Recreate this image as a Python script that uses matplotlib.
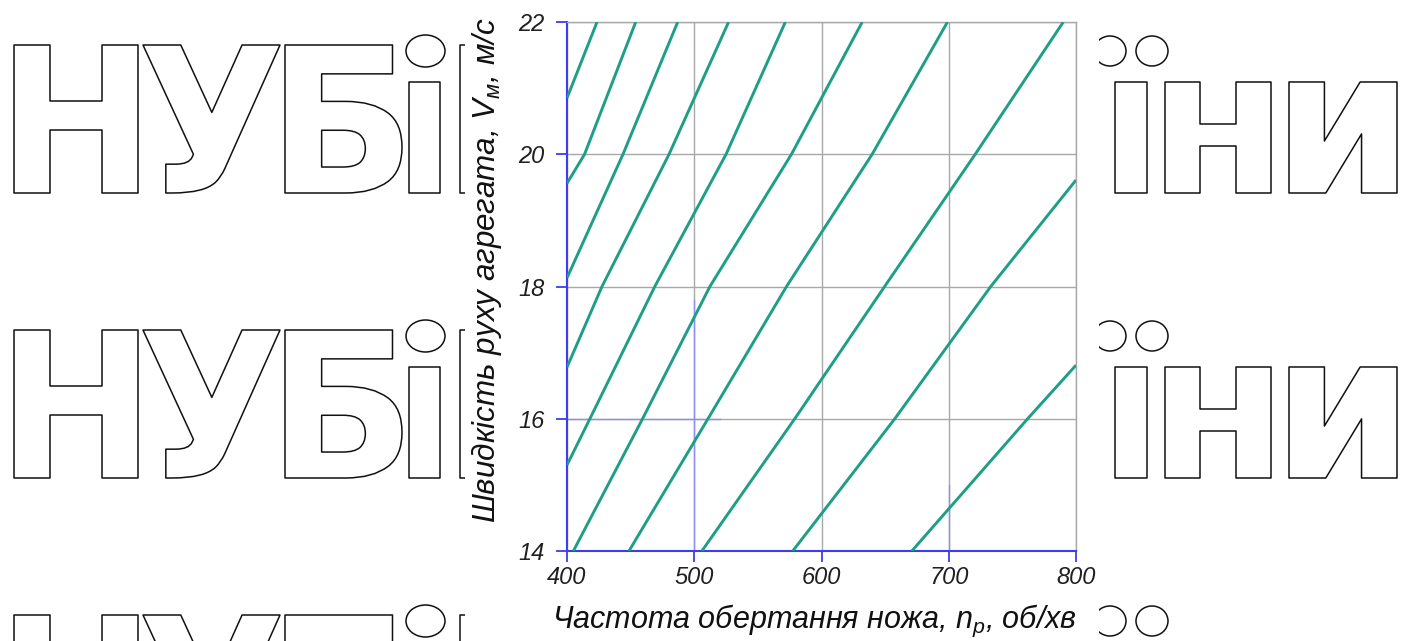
import matplotlib
matplotlib.use("Agg")
import matplotlib.pyplot as plt
from matplotlib.textpath import TextPath
from matplotlib.font_manager import FontProperties, fontManager
from matplotlib.patches import PathPatch, Rectangle, Ellipse
from matplotlib.transforms import Affine2D

# ---------------- data ----------------
x_ticks = [400, 500, 600, 700, 800]
y_ticks = [14, 16, 18, 20, 22]
x_label = "Частота обертання ножа, $n_p$, об/хв"
y_label = "Швидкість руху агрегата, $V_м$, м/с"

n_1 = [400, 423.6];                 v_1 = [20.85, 22.0]
n_2 = [400, 413.8, 454];            v_2 = [19.56, 20.0, 22.0]
n_3 = [400, 444, 487];              v_3 = [18.13, 20.0, 22.0]
n_4 = [400, 427.5, 480.2, 527];     v_4 = [16.78, 18.0, 20.0, 22.0]
n_5 = [400, 418, 469, 525, 571.6];  v_5 = [15.30, 16.0, 18.0, 20.0, 22.0]
n_6 = [405, 459.4, 512.3, 576.4, 632];  v_6 = [14, 16, 18, 20, 22]
n_7 = [448.7, 510.8, 572.5, 639.8, 699]; v_7 = [14, 16, 18, 20, 22]
n_8 = [506, 579, 649.6, 720.8, 790];     v_8 = [14, 16, 18, 20, 22]
n_9 = [577.4, 657.6, 733, 800];          v_9 = [14, 16, 18, 19.61]
n_10 = [671, 762, 800];                  v_10 = [14, 16, 16.81]

lines_n = [n_1, n_2, n_3, n_4, n_5, n_6, n_7, n_8, n_9, n_10]
lines_v = [v_1, v_2, v_3, v_4, v_5, v_6, v_7, v_8, v_9, v_10]

# watermark "НУБіП ... їни": glyphs (dotless stems for і / ї)
wm_glyphs = ["Н", "У", "Б", "ı", "П", "ı", "н", "и"]

# ---------------- fonts ----------------
names = {f.name for f in fontManager.ttflist}
narrow = "Liberation Sans Narrow" if "Liberation Sans Narrow" in names else "Liberation Sans"
plt.rcParams['font.family'] = [narrow, 'DejaVu Sans']
plt.rcParams['mathtext.fontset'] = 'custom'
plt.rcParams['mathtext.it'] = narrow + ':italic'
plt.rcParams['mathtext.rm'] = narrow + ':italic'

W, H = 1413, 641
fig = plt.figure(figsize=(W / 100, H / 100), dpi=100)
fig.patch.set_facecolor('white')

# ---------------- watermark ----------------
fp = FontProperties(family='DejaVu Sans', weight='bold')
cap_units = TextPath((0, 0), "Н", size=100, prop=fp).get_extents().height
sy = 148.0 / cap_units
# layout: left edge and width (px) of each glyph
glyph_x = [14, 143, 285, 409, 460, 1115, 1165, 1289]
glyph_w = [124, 137, 117, 31, 120, 32, 106, 108]
# dots: (center x, width, height)
dots = [(425.5, 39, 32), (1110, 32, 30), (1152, 32, 30)]

for base in [H - 193, H - 478, H - 763]:
    for ch, gx, gw in zip(wm_glyphs, glyph_x, glyph_w):
        path = TextPath((0, 0), ch, size=100, prop=fp)
        e = path.get_extents()
        t = Affine2D().translate(-e.x0, 0).scale(gw / e.width, sy).translate(gx, base)
        fig.add_artist(PathPatch(path, transform=t, facecolor='white',
                                 edgecolor='#111111', lw=1.1, joinstyle='round', zorder=-3))
    for cx, dw, dh in dots:
        fig.add_artist(Ellipse((cx, base + 142), dw, dh, transform=Affine2D(),
                               facecolor='white', edgecolor='#111111', lw=1.1, zorder=-3))

cover = Rectangle((465, 0), 1099 - 465, H, transform=Affine2D(), facecolor='white',
                  edgecolor='none', zorder=-2)
fig.add_artist(cover)

# ---------------- chart ----------------
ax = fig.add_axes([567 / W, 90 / H, 509 / W, 529 / H])
ax.set_facecolor('white')
for n, v in zip(lines_n, lines_v):
    ax.plot(n, v, color='#1f9e86', lw=2.1, solid_capstyle='butt', zorder=3)

ax.set_xlim(400, 800)
ax.set_ylim(14, 22)
ax.set_xticks(x_ticks)
ax.set_yticks(y_ticks)
ax.grid(True, color='#a8a8a8', lw=1.0)
ax.set_axisbelow(True)

lblue = '#8e8ef2'
ax.plot([500, 500], [14, 17.8], color=lblue, lw=1.0, zorder=1.5)
ax.plot([700, 700], [14, 15.0], color=lblue, lw=1.0, zorder=1.5)
ax.plot([400, 520], [16, 16], color=lblue, lw=1.0, zorder=1.5)

blue = '#3c3cf0'
for s in ['left', 'bottom']:
    ax.spines[s].set_color(blue)
    ax.spines[s].set_linewidth(1.5)
for s in ['top', 'right']:
    ax.spines[s].set_color('#a8a8a8')
    ax.spines[s].set_linewidth(1.0)

ax.tick_params(direction='out', length=8, width=1.3, color=blue, labelsize=17,
               labelcolor='#202020')
ax.tick_params(axis='y', pad=8)
ax.tick_params(axis='x', pad=3)
for lab in ax.get_xticklabels() + ax.get_yticklabels():
    lab.set_fontstyle('italic')

ax.set_xlabel(x_label, fontsize=22, fontstyle='italic', color='#111111')
ax.set_ylabel(y_label, fontsize=22.6, fontstyle='italic', color='#111111')
ax.xaxis.set_label_coords(0.487, -0.098)
ax.yaxis.set_label_coords(-0.124, 0.53)

fig.savefig("out.png", dpi=100, facecolor='white')
